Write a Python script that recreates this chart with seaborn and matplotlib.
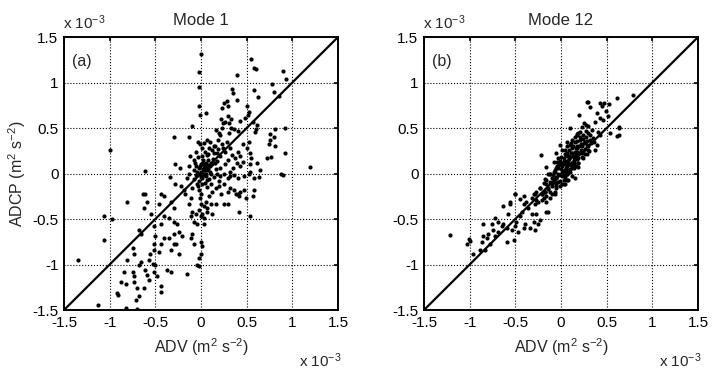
import matplotlib
matplotlib.use("Agg")
import matplotlib.pyplot as plt
import seaborn as sns

# values in units of 1e-3 m^2 s^-2
adv_mode1 = [
    0.00, -0.02, 0.55, 0.58, 0.60, 0.39, 0.90, 0.93, -0.02, 0.78,
    0.80, 0.85, 0.58, 0.62, 0.34, 0.35, 0.28, 0.25, 0.23, 0.30,
    0.39, 0.50, 0.52, 0.51, -0.02, 0.05, -0.01, 0.22, 0.26, 0.30,
    0.31, 0.33, 0.24, 0.43, 0.48, 0.57, 0.61, 0.60, 0.59, -0.10,
    0.16, 0.20, 0.21, 0.23, 0.33, 0.36, 0.40, 0.31, 0.92, 0.81,
    0.80, 0.76, 0.75, 0.74, 0.81, 0.92, 0.72, 0.77, -0.30, -0.13,
    -0.03, -0.01, 0.01, 0.03, 0.06, 0.10, 0.04, -0.05, 0.01, 0.08,
    0.12, 0.15, 0.19, 0.23, 0.24, 0.17, 0.21, 0.28, 0.26, 0.32,
    0.34, 0.37, 0.30, 0.43, 0.41, 0.46, 0.52, 0.50, 0.54, 0.55,
    0.46, 0.39, 0.43, 0.35, 0.32, 0.26, 0.21, 0.15, 0.10, 0.06,
    0.03, -0.01, -0.07, -0.12, -0.13, -0.08, -0.28, -0.23, 0.54, 0.61,
    0.54, 0.65, 0.88, 1.19, -1.00, -0.61,
    -0.34, -0.28, -0.13, -0.08, 0.00, 0.01, 0.03, 0.05, 0.07, 0.11,
    0.14, 0.18, 0.21, 0.25, 0.29, 0.32, 0.36, 0.40, 0.47, 0.52,
    0.58, 0.63, 0.90,
    -0.04, -0.02, 0.00, -0.01, 0.00, 0.03, -0.02, 0.01, 0.00, 0.03,
    0.07, 0.11, 0.05, 0.09, 0.12, 0.16, 0.11, 0.20, 0.25, 0.22,
    0.29, 0.32, 0.36, 0.40, 0.43, 0.47, 0.49, 0.42, 0.38, 0.57,
    0.58, 0.29, 0.25, 0.16, 0.12, 0.07, -0.06, -0.10, -0.13, -0.11,
    -0.17, -0.19, -0.22, -0.10, -0.11, -0.08, -0.04, 0.03, 0.42, 0.54,
    -0.64, -0.61, -0.59, -0.62, -0.81, -1.06, -0.97, -0.44, -0.41, -0.46,
    -0.33, -0.30, -0.41, -0.35, -0.30, -0.26, -0.44, -0.55, -0.68, -0.66,
    -0.51, -0.50, -0.51, -0.52, -0.44, -0.46, -0.41, -0.35, -0.30, -0.24,
    -0.21, -0.27, -0.30, -0.24, -0.33, -0.10, -0.11, -0.08, 0.00, 0.01,
    0.00, -0.02, -0.04, -0.02, -0.15, -0.37, -0.33, -0.56, -0.57, -0.53,
    -0.50, -0.51, -0.48, -0.44, -0.61, -0.59, -0.57, -0.66, -0.68, -0.75,
    -0.73, -0.81, -0.84, -0.88, -0.82, -0.75, -0.73, -0.73, -0.70, -0.71,
    -0.68, -0.62, -0.92, -0.91, -1.06, -1.35, -1.13, -0.82, -0.70, -0.44,
    0.02, -0.04, 0.05, 0.08, -0.02, 0.04, 0.00, 0.10, -0.06, 0.02,
    0.06, -0.03, 0.13, 0.09, 0.00, 0.03, -0.01, 0.07, 0.12, 0.16,
    0.18, 0.14, 0.03, -0.05, 0.00,
    0.02, -0.02, 0.05, 0.08, 0.01, -0.03, 0.06, 0.09, 0.14, 0.19,
    -0.08, -0.15, 0.20, 0.11, 0.04,
]
adcp_mode1 = [
    1.31, 1.12, 1.26, 1.16, 1.15, 1.08, 1.13, 1.04, 0.95, 0.98,
    0.90, 0.85, 0.92, 0.84, 0.93, 0.89, 0.80, 0.77, 0.72, 0.74,
    0.81, 0.74, 0.68, 0.64, 0.74, 0.66, 0.64, 0.60, 0.57, 0.63,
    0.56, 0.60, 0.55, 0.58, 0.61, 0.57, 0.53, 0.49, 0.46, 0.52,
    0.48, 0.45, 0.42, 0.50, 0.50, 0.49, 0.47, 0.44, 0.50, 0.49,
    0.40, 0.43, 0.37, 0.32, 0.30, 0.23, 0.17, 0.18, 0.40, 0.40,
    0.35, 0.32, 0.28, 0.33, 0.37, 0.35, 0.24, 0.24, 0.19, 0.21,
    0.26, 0.30, 0.37, 0.32, 0.28, 0.22, 0.19, 0.35, 0.24, 0.28,
    0.20, 0.17, 0.15, 0.19, 0.24, 0.32, 0.35, 0.28, 0.22, 0.17,
    0.13, 0.11, 0.08, 0.06, 0.02, 0.10, 0.06, 0.11, 0.08, 0.04,
    0.00, 0.08, 0.11, 0.19, 0.08, 0.04, 0.10, 0.06, 0.10, 0.11,
    0.02, 0.04, 0.00, 0.07, 0.26, 0.03,
    -0.04, -0.11, -0.01, -0.06, -0.015, -0.05, 0.00, -0.03, -0.07, -0.01,
    -0.04, 0.00, -0.03, -0.01, -0.05, -0.03, -0.02, -0.05, -0.03, -0.01,
    -0.05, -0.04, -0.02,
    -0.12, -0.18, -0.22, -0.27, -0.33, -0.36, -0.40, -0.44, -0.47, -0.49,
    -0.42, -0.34, -0.31, -0.25, -0.20, -0.16, -0.12, -0.14, -0.12, -0.23,
    -0.20, -0.16, -0.18, -0.22, -0.20, -0.18, -0.27, -0.25, -0.23, -0.25,
    -0.18, -0.34, -0.34, -0.34, -0.45, -0.38, -0.44, -0.42, -0.34, -0.27,
    -0.23, -0.18, -0.14, -0.16, -0.47, -0.53, -0.55, -0.56, -0.42, -0.47,
    -0.22, -0.23, -0.31, -0.38, -0.31, -0.47, -0.50, -0.23, -0.25, -0.33,
    -0.31, -0.38, -0.47, -0.49, -0.53, -0.55, -0.56, -0.45, -0.62, -0.66,
    -0.58, -0.69, -0.77, -0.84, -0.77, -0.86, -0.71, -0.71, -0.66, -0.64,
    -0.69, -0.77, -0.78, -0.88, -0.84, -0.67, -0.71, -0.77, -0.75, -0.80,
    -0.88, -0.93, -1.00, -1.02, -1.10, -1.06, -1.08, -0.89, -0.95, -0.99,
    -1.00, -1.08, -1.13, -1.24, -1.06, -1.11, -1.17, -0.97, -1.00, -0.82,
    -0.88, -0.95, -1.08, -1.19, -1.21, -1.08, -1.13, -1.19, -1.26, -1.39,
    -1.35, -1.26, -1.31, -1.34, -0.73, -0.95, -1.45, -1.48, -1.49, -1.30,
    0.05, 0.02, 0.12, 0.15, -0.08, -0.10, 0.10, 0.02, -0.02, 0.15,
    0.20, 0.18, 0.16, -0.06, 0.02, -0.02, 0.00, 0.09, 0.10, 0.05,
    0.14, 0.22, 0.08, 0.08, -0.04,
    0.12, 0.06, 0.00, 0.05, -0.12, -0.14, -0.15, 0.28, 0.30, 0.27,
    0.15, -0.05, -0.08, 0.12, 0.04,
]

adv_mode12 = [
    0.61, 0.43, 0.52, 0.30, 0.32, 0.45, 0.20, 0.39, 0.49, 0.51,
    0.37, 0.43, 0.46, 0.25, 0.23, 0.27, 0.63, 0.63, 0.10, 0.54,
    0.41, 0.43, 0.79, 0.64, 0.61, 0.28, 0.47,
    0.21, 0.17, 0.24, 0.30, 0.32, 0.21, 0.15, 0.26, 0.35, 0.28,
    0.23, 0.39, 0.37, 0.30, 0.17, 0.12, 0.10, 0.06, -0.01, 0.01,
    0.12, 0.17, 0.23, 0.28, 0.24, 0.19, 0.14, 0.08, 0.04, -0.05,
    -0.03, 0.03, 0.08, 0.14, 0.19, 0.01, 0.06, 0.12, -0.05, -0.08,
    -0.03, 0.03, 0.06, 0.01, -0.05, -0.08, -0.03, 0.03, -0.12, -0.16,
    -0.10, -0.05, 0.01, -0.07, -0.12, -0.17, -0.23, -0.27, -0.21, -0.16,
    -0.30, -0.32, -0.27, -0.41, -0.45, -0.21, -0.12, -0.50, -0.22, -0.14,
    -0.08, 0.04, 0.08,
    -1.21, -1.01, -0.995, -1.03, -0.96, -0.85, -0.76, -0.72, -0.69, -0.74,
    -0.80, -0.85, -0.87, -0.81, -0.78, -0.89, -0.83, -0.72, -0.69, -0.65,
    -0.63, -0.59, -0.58, -0.56, -0.59, -0.52, -0.54, -0.50, -0.49, -0.45,
    -0.47, -0.41, -0.39, -0.43, -0.41, -0.38, -0.36, -0.32, -0.30, -0.28,
    -0.34, -0.25, -0.23, -0.27, -0.28, -0.25, -0.19, -0.21, -0.28, -0.16,
    -0.16, -0.14, -0.17, -0.14, -0.10, -0.23, -0.08, -0.05, -0.12, -0.07,
    -0.03, 0.01, 0.06, 0.04, 0.10, 0.13, 0.12, 0.15, 0.06, 0.03,
    -0.01, -0.05, -0.07, -0.10, -0.50, -0.56, -0.63, -0.16,
    0.02, 0.05, 0.08, 0.11, 0.09, 0.14, 0.16, 0.20, 0.18, 0.22,
    0.26, 0.06, 0.00, -0.02, 0.04, 0.10, 0.13, 0.07, 0.11, 0.15,
    0.19, 0.27, 0.33, 0.24, -0.06, -0.09, 0.00, 0.03, -0.01, 0.16,
    -0.16, -0.19, -0.14, -0.18,
    0.01, 0.04, 0.07, 0.10, 0.12, 0.15, 0.17, 0.20, 0.22, 0.25,
    0.28, 0.30, 0.13, 0.09, 0.05, 0.02, 0.06, 0.09, 0.18, 0.21,
    0.24, 0.27, 0.32, 0.34, 0.36, -0.04, -0.07, -0.02, 0.14, 0.19,
    0.11, 0.08, 0.03, -0.10, -0.12, -0.06, -0.01, 0.05, 0.16, 0.23,
    0.31, 0.26, 0.12, 0.17, 0.29, 0.19, 0.07, 0.00, -0.04, 0.04,
]
adcp_mode12 = [
    0.83, 0.78, 0.76, 0.79, 0.73, 0.74, 0.64, 0.66, 0.69, 0.63,
    0.57, 0.61, 0.59, 0.55, 0.51, 0.53, 0.51, 0.42, 0.50, 0.45,
    0.46, 0.42, 0.86, 0.50, 0.41, 0.79, 0.77,
    0.46, 0.42, 0.42, 0.44, 0.37, 0.37, 0.35, 0.35, 0.39, 0.31,
    0.30, 0.31, 0.26, 0.26, 0.30, 0.28, 0.31, 0.35, 0.31, 0.26,
    0.22, 0.24, 0.22, 0.21, 0.17, 0.17, 0.17, 0.19, 0.21, 0.22,
    0.17, 0.13, 0.13, 0.11, 0.11, 0.08, 0.08, 0.06, 0.06, 0.02,
    0.00, 0.00, -0.01, -0.03, -0.05, -0.07, -0.09, -0.07, -0.09, -0.12,
    -0.14, -0.14, -0.12, -0.20, -0.20, -0.20, -0.16, -0.20, -0.23, -0.25,
    -0.23, -0.27, -0.29, -0.25, -0.28, -0.29, -0.27, -0.23, 0.20, 0.00,
    0.13, -0.11, -0.07,
    -0.68, -0.72, -0.74, -0.78, -0.89, -0.56, -0.55, -0.49, -0.53, -0.62,
    -0.66, -0.69, -0.75, -0.71, -0.77, -0.84, -0.84, -0.69, -0.64, -0.58,
    -0.55, -0.60, -0.45, -0.34, -0.75, -0.73, -0.62, -0.58, -0.53, -0.47,
    -0.64, -0.60, -0.56, -0.42, -0.33, -0.31, -0.38, -0.44, -0.53, -0.62,
    -0.60, -0.56, -0.51, -0.44, -0.34, -0.31, -0.27, -0.23, -0.23, -0.31,
    -0.42, -0.42, -0.20, -0.16, -0.12, -0.16, -0.09, -0.05, -0.01, 0.02,
    0.06, -0.01, 0.04, 0.10, 0.02, 0.08, -0.03, -0.05, -0.07, -0.11,
    -0.14, -0.16, -0.22, -0.23, -0.23, -0.31, -0.36, 0.07,
    0.03, 0.06, 0.04, 0.09, 0.16, 0.14, 0.20, 0.22, 0.28, 0.32,
    0.27, 0.10, 0.05, -0.02, -0.04, 0.05, 0.19, 0.23, 0.33, 0.40,
    0.45, 0.40, 0.33, 0.25, -0.04, -0.02, 0.12, 0.17, 0.14, 0.08,
    -0.07, -0.10, -0.17, -0.06,
    0.10, 0.12, 0.14, 0.18, 0.12, 0.24, 0.16, 0.30, 0.26, 0.33,
    0.36, 0.30, 0.30, 0.26, 0.20, 0.01, 0.00, 0.10, 0.36, 0.40,
    0.38, 0.47, 0.42, 0.48, 0.35, 0.08, 0.04, 0.09, 0.06, 0.12,
    0.22, 0.19, 0.14, -0.05, -0.01, -0.10, -0.08, 0.03, 0.28, 0.18,
    0.25, 0.21, 0.37, 0.43, 0.52, 0.07, 0.30, 0.18, 0.13, 0.26,
]

ticks = [-1.5, -1, -0.5, 0, 0.5, 1, 1.5]
tick_labels = ["-1.5", "-1", "-0.5", "0", "0.5", "1", "1.5"]
one_to_one = [-1.5, 1.5]

sns.set_style("white")
plt.rcParams["font.family"] = ["Liberation Sans", "DejaVu Sans"]
plt.rcParams["mathtext.fontset"] = "custom"
plt.rcParams["mathtext.rm"] = "Liberation Sans"
plt.rcParams["mathtext.it"] = "Liberation Sans:italic"

fig = plt.figure(figsize=(7.2, 3.8), dpi=100)
ax_a = fig.add_axes([0.0889, 0.1842, 0.3806, 0.7184])
ax_b = fig.add_axes([0.5889, 0.1842, 0.3806, 0.7184])

panels = [
    (ax_a, adv_mode1, adcp_mode1, "Mode 1", "(a)"),
    (ax_b, adv_mode12, adcp_mode12, "Mode 12", "(b)"),
]

for ax, xs, ys, title, tag in panels:
    ax.set_axisbelow(True)
    ax.grid(True, linestyle=":", color="k", linewidth=0.8)
    sns.scatterplot(x=xs, y=ys, ax=ax, s=9, color="k", linewidth=0, zorder=3)
    ax.plot(one_to_one, one_to_one, color="k", linewidth=1.6, zorder=4)
    ax.set_xlim(-1.5, 1.5)
    ax.set_ylim(-1.5, 1.5)
    ax.set_xticks(ticks)
    ax.set_yticks(ticks)
    ax.set_xticklabels(tick_labels)
    ax.set_yticklabels(tick_labels)
    ax.tick_params(direction="in", length=3, width=1.2, labelsize=11, pad=4,
                   top=True, right=True, colors="k")
    for sp in ax.spines.values():
        sp.set_color("k")
        sp.set_linewidth(1.4)
    ax.set_title(title, fontsize=12, pad=9)
    ax.set_xlabel("ADV (m$^{2}$ s$^{-2}$)", fontsize=11.5, labelpad=5)
    ax.text(-1.41, 1.23, tag, fontsize=11.5, ha="left", va="center")

ax_a.set_ylabel("ADCP (m$^{2}$ s$^{-2}$)", fontsize=11.5, labelpad=3)

# MATLAB style exponent labels
for left, right in [(63, 338), (423, 698)]:
    fig.text(left / 720, 1 - 29 / 380, "x 10$^{-3}$", fontsize=11, va="baseline", ha="left")
    fig.text((right - 39) / 720, 1 - 367 / 380, "x 10$^{-3}$", fontsize=11, va="baseline", ha="left")

fig.savefig("out.png", dpi=100)
